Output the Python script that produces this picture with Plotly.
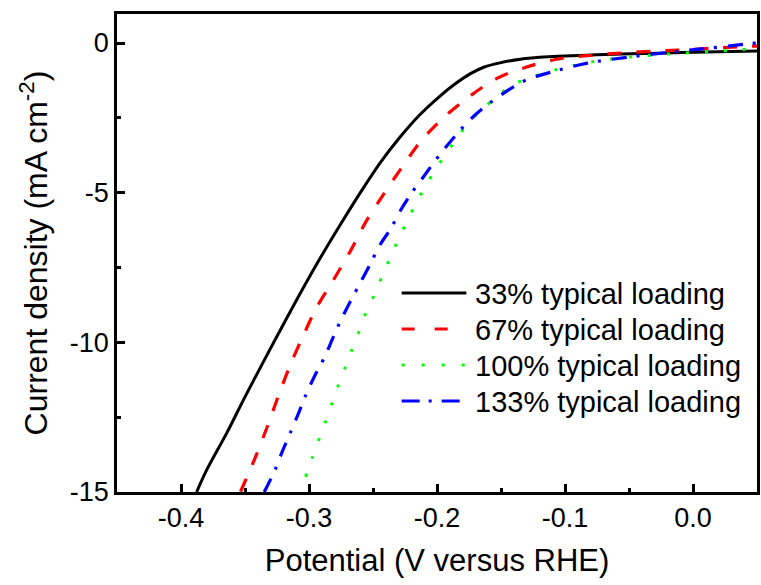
import plotly.graph_objects as go

# ---- data (potential in V vs RHE, current density in mA cm^-2) ----
v33 = [-0.3878, -0.380, -0.3644, -0.3500, -0.3340, -0.3190, -0.3040, -0.2890, -0.2740,
       -0.2590, -0.2440, -0.2290, -0.2140, -0.1990, -0.1860, -0.1742, -0.1630, -0.1516,
       -0.135, -0.113, -0.068, -0.027, 0.010, 0.05]
j33 = [-15.0, -14.27, -13.04, -11.82, -10.52, -9.32, -8.14, -7.02, -5.96,
       -4.94, -3.98, -3.15, -2.42, -1.82, -1.37, -1.03, -0.80, -0.67,
       -0.54, -0.46, -0.38, -0.34, -0.30, -0.27]

v67 = [-0.3535, -0.3419, -0.3326, -0.3235, -0.3139, -0.3043, -0.2944, -0.2810, -0.2679,
       -0.2558, -0.2420, -0.2272, -0.2123, -0.1935, -0.1742, -0.1532, -0.1306, -0.1065,
       -0.0802, -0.055, -0.0296, -0.0041, 0.0208, 0.05]
j67 = [-14.99, -13.84, -12.82, -11.74, -10.68, -9.76, -8.86, -7.92, -6.97,
       -5.99, -5.07, -4.14, -3.26, -2.44, -1.77, -1.18, -0.81, -0.54,
       -0.41, -0.33, -0.27, -0.22, -0.16, -0.10]

v100 = [-0.3027, -0.2978, -0.2926, -0.2874, -0.2822, -0.2773, -0.2718, -0.2664, -0.2607,
        -0.2555, -0.2490, -0.2430, -0.2368, -0.2306, -0.2239, -0.2171, -0.2101, -0.2023,
        -0.1946, -0.1855, -0.1758, -0.165, -0.1548, -0.1426, -0.129, -0.105, -0.085,
        -0.070, -0.040, -0.009, 0.021, 0.05]
j100 = [-14.49, -13.90, -13.29, -12.69, -12.07, -11.46, -10.85, -10.23, -9.61,
        -9.01, -8.42, -7.80, -7.19, -6.60, -6.00, -5.41, -4.86, -4.30,
        -3.80, -3.24, -2.68, -2.22, -1.85, -1.44, -1.18, -0.87, -0.68,
        -0.57, -0.43, -0.34, -0.27, -0.18]

v133 = [-0.335, -0.3339, -0.3263, -0.3209, -0.3139, -0.3082, -0.3022, -0.2952, -0.2879,
        -0.2815, -0.2750, -0.2685, -0.2602, -0.2521, -0.2446, -0.2360, -0.2283, -0.2192,
        -0.2101, -0.1971, -0.1806, -0.1694, -0.1565, -0.1435, -0.129, -0.1097, -0.0825,
        -0.0506, -0.0185, 0.0132, 0.0449, 0.05]
j133 = [-15.0, -14.91, -14.24, -13.65, -12.95, -12.37, -11.73, -11.09, -10.50,
        -9.87, -9.25, -8.70, -8.03, -7.38, -6.75, -6.19, -5.58, -4.97,
        -4.44, -3.69, -2.85, -2.37, -1.93, -1.55, -1.21, -0.96, -0.67,
        -0.47, -0.31, -0.17, -0.02, 0.0]

names = ["33% typical loading", "67% typical loading",
         "100% typical loading", "133% typical loading"]

x_ticks = [-0.4, -0.3, -0.2, -0.1, 0.0]
x_ticklabels = ["-0.4", "-0.3", "-0.2", "-0.1", "0.0"]
y_ticks = [0, -5, -10, -15]
y_ticklabels = ["0", "-5", "-10", "-15"]

FONT = "Arial, Liberation Sans, sans-serif"

colors = ["#000000", "#ff0000", "#00ff00", "#0000ff"]
widths = [3, 3.2, 3, 3.2]
curve_dash = ["solid", "14px,15px", "3px,16px", "15px,10px,3px,11px"]
legend_dash = ["solid", "13px,20px", "3px,17px", "18px,9px,3px,10px"]

fig = go.Figure()
for vx, jy, nm, c, w, d in zip([v33, v67, v100, v133], [j33, j67, j100, j133],
                               names, colors, widths, curve_dash):
    fig.add_trace(go.Scatter(x=vx, y=jy, mode="lines", name=nm, showlegend=False,
                             line=dict(color=c, width=w, dash=d, shape="spline", smoothing=0.9)))

axis_common = dict(
    showline=True, linecolor="black", linewidth=2.5, mirror=True,
    ticks="inside", ticklen=8, tickwidth=2.5, tickcolor="black",
    showgrid=False, zeroline=False,
    tickfont=dict(family=FONT, size=27, color="black"),
)

fig.update_xaxes(
    range=[-0.45, 0.05], tickvals=x_ticks, ticktext=x_ticklabels,
    minor=dict(dtick=0.05, tick0=0, ticks="inside", ticklen=4, tickwidth=2.5, tickcolor="black"),
    title=dict(text="Potential (V versus RHE)", font=dict(family=FONT, size=31, color="black"), standoff=18),
    **axis_common,
)
fig.update_yaxes(
    range=[-15, 0.97], tickvals=y_ticks, ticktext=y_ticklabels,
    minor=dict(dtick=2.5, tick0=0, ticks="inside", ticklen=4, tickwidth=2.5, tickcolor="black"),
    title=dict(text="Current density (mA cm<sup>-2</sup>)", font=dict(family=FONT, size=32, color="black"), standoff=13),
    **axis_common,
)

# ---- legend drawn inside the plot (paper coordinates of the plot area) ----
L, R, T, B = 117, 760, 14, 492
def px_x(p):
    return (p - L) / (R - L)
def px_y(p):
    return (B - p) / (B - T)

row_y = [293, 329, 365, 401]
shapes = []
annotations = []
for i in range(4):
    shapes.append(dict(type="line", xref="paper", yref="paper",
                       x0=px_x(403), x1=px_x(468), y0=px_y(row_y[i]), y1=px_y(row_y[i]),
                       line=dict(color=colors[i], width=widths[i], dash=legend_dash[i])))
    annotations.append(dict(xref="paper", yref="paper", x=px_x(475), y=px_y(row_y[i] + 1),
                            xanchor="left", yanchor="middle", showarrow=False,
                            text=names[i], font=dict(family=FONT, size=29, color="black")))

fig.update_layout(
    width=761, height=585,
    margin=dict(l=L, r=761 - R, t=T, b=585 - B),
    plot_bgcolor="white", paper_bgcolor="white",
    shapes=shapes, annotations=annotations,
    showlegend=False,
)

fig.write_html("out.html")
